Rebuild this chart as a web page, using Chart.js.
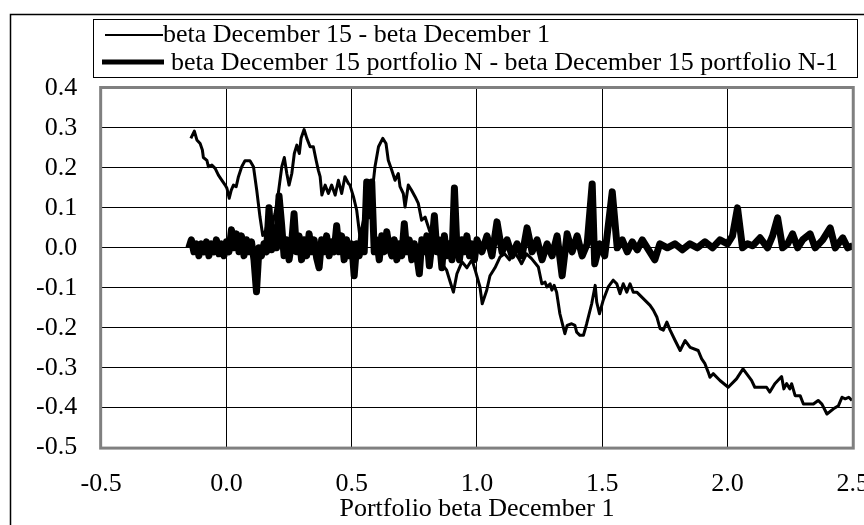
<!DOCTYPE html>
<html>
<head>
<meta charset="utf-8">
<script src="https://cdn.jsdelivr.net/npm/chart.js@4.4.0/dist/chart.umd.min.js"></script>
<style>
  html, body { margin: 0; padding: 0; background: #fff; overflow: hidden; }
  canvas { display: block; }
</style>
</head>
<body>
<canvas id="betaChart" width="890" height="525"></canvas>
<script>
// beta December 15 - beta December 1 (thin line)
var thinX = [-0.142, -0.128, -0.118, -0.105, -0.096, -0.092, -0.078, -0.072, -0.058, -0.045,
    -0.032, -0.018, -0.005, 0.002, 0.011, 0.019, 0.028, 0.039, 0.048, 0.061,
    0.074, 0.094, 0.108, 0.121, 0.134, 0.145, 0.157, 0.168, 0.181, 0.194,
    0.207, 0.221, 0.231, 0.241, 0.250, 0.261, 0.271, 0.281, 0.291, 0.298,
    0.310, 0.321, 0.334, 0.347, 0.358, 0.367, 0.374, 0.381, 0.394, 0.407,
    0.420, 0.434, 0.447, 0.460, 0.473, 0.487, 0.493, 0.507, 0.520, 0.533,
    0.547, 0.560, 0.573, 0.587, 0.593, 0.607, 0.624, 0.637, 0.646, 0.660,
    0.673, 0.686, 0.693, 0.706, 0.713, 0.726, 0.739, 0.753, 0.766, 0.779,
    0.793, 0.806, 0.819, 0.835, 0.850, 0.866, 0.879, 0.893, 0.906, 0.920,
    0.940, 0.960, 0.980, 0.995, 1.012, 1.021, 1.039, 1.052, 1.072, 1.092,
    1.110, 1.130, 1.145, 1.165, 1.178, 1.198, 1.218, 1.245, 1.259, 1.272,
    1.279, 1.292, 1.299, 1.308, 1.318, 1.331, 1.351, 1.360, 1.378, 1.391,
    1.398, 1.411, 1.425, 1.438, 1.458, 1.472, 1.478, 1.489, 1.504, 1.524,
    1.544, 1.558, 1.571, 1.584, 1.598, 1.611, 1.624, 1.638, 1.664, 1.691,
    1.704, 1.718, 1.731, 1.744, 1.758, 1.771, 1.791, 1.811, 1.831, 1.851,
    1.883, 1.897, 1.910, 1.923, 1.930, 1.943, 1.970, 2.003, 2.036, 2.062,
    2.082, 2.096, 2.109, 2.129, 2.156, 2.169, 2.189, 2.216, 2.225, 2.236,
    2.249, 2.256, 2.270, 2.290, 2.303, 2.343, 2.362, 2.377, 2.397, 2.423,
    2.443, 2.457, 2.470, 2.484, 2.497];
var thinY = [0.274, 0.292, 0.270, 0.261, 0.245, 0.226, 0.219, 0.203, 0.207, 0.199,
    0.182, 0.169, 0.157, 0.149, 0.124, 0.144, 0.157, 0.153, 0.178, 0.203,
    0.218, 0.218, 0.203, 0.144, 0.077, 0.031, 0.044, 0.077, 0.052, 0.086,
    0.136, 0.203, 0.226, 0.186, 0.157, 0.186, 0.236, 0.257, 0.236, 0.274,
    0.296, 0.274, 0.253, 0.253, 0.219, 0.194, 0.178, 0.132, 0.157, 0.136,
    0.157, 0.132, 0.169, 0.136, 0.178, 0.161, 0.157, 0.128, 0.094, 0.027,
    0.069, 0.111, 0.161, 0.169, 0.203, 0.253, 0.274, 0.261, 0.219, 0.194,
    0.169, 0.186, 0.153, 0.136, 0.102, 0.157, 0.144, 0.128, 0.111, 0.069,
    0.077, 0.052, 0.027, 0.005, -0.020, -0.045, -0.056, -0.085, -0.111, -0.065,
    -0.035, -0.050, -0.030, -0.060, -0.098, -0.140, -0.106, -0.070, -0.050, -0.023,
    -0.015, -0.030, -0.006, -0.025, -0.040, -0.015, -0.027, -0.048, -0.090, -0.086,
    -0.098, -0.090, -0.106, -0.094, -0.111, -0.165, -0.215, -0.194, -0.190, -0.194,
    -0.211, -0.219, -0.219, -0.190, -0.140, -0.094, -0.136, -0.165, -0.131, -0.098,
    -0.081, -0.090, -0.115, -0.090, -0.111, -0.090, -0.111, -0.111, -0.127, -0.144,
    -0.156, -0.173, -0.202, -0.206, -0.186, -0.206, -0.232, -0.257, -0.232, -0.249,
    -0.257, -0.278, -0.290, -0.311, -0.324, -0.315, -0.332, -0.349, -0.328, -0.303,
    -0.320, -0.332, -0.349, -0.349, -0.349, -0.361, -0.340, -0.322, -0.353, -0.340,
    -0.353, -0.340, -0.370, -0.370, -0.391, -0.391, -0.382, -0.391, -0.416, -0.403,
    -0.395, -0.374, -0.378, -0.374, -0.382];

// beta December 15 portfolio N - beta December 15 portfolio N-1 (thick line)
var thickX = [-0.15, -0.14, -0.13, -0.12, -0.11, -0.10, -0.09, -0.08, -0.07, -0.06,
    -0.05, -0.04, -0.03, -0.02, -0.01, 0.00, 0.01, 0.02, 0.03, 0.04,
    0.05, 0.06, 0.07, 0.08, 0.09, 0.10, 0.11, 0.12, 0.13, 0.14,
    0.15, 0.16, 0.17, 0.18, 0.19, 0.20, 0.21, 0.22, 0.23, 0.24,
    0.25, 0.26, 0.27, 0.28, 0.29, 0.30, 0.31, 0.32, 0.33, 0.34,
    0.35, 0.36, 0.37, 0.38, 0.39, 0.40, 0.41, 0.42, 0.43, 0.44,
    0.45, 0.46, 0.47, 0.48, 0.49, 0.50, 0.51, 0.52, 0.53, 0.54,
    0.55, 0.56, 0.57, 0.58, 0.59, 0.60, 0.61, 0.62, 0.63, 0.64,
    0.65, 0.66, 0.67, 0.68, 0.69, 0.70, 0.71, 0.72, 0.73, 0.74,
    0.75, 0.76, 0.77, 0.78, 0.79, 0.80, 0.81, 0.82, 0.83, 0.84,
    0.85, 0.86, 0.87, 0.88, 0.89, 0.90, 0.91, 0.92, 0.93, 0.94,
    0.95, 0.96, 0.97, 0.98, 0.99, 1.00, 1.02, 1.04, 1.06, 1.08,
    1.10, 1.12, 1.14, 1.16, 1.18, 1.20, 1.22, 1.24, 1.26, 1.28,
    1.30, 1.32, 1.34, 1.36, 1.38, 1.40, 1.42, 1.44, 1.46, 1.47,
    1.49, 1.51, 1.54, 1.56, 1.58, 1.60, 1.62, 1.64, 1.66, 1.68,
    1.71, 1.73, 1.76, 1.79, 1.82, 1.85, 1.88, 1.91, 1.94, 1.97,
    2.00, 2.02, 2.04, 2.06, 2.08, 2.10, 2.13, 2.16, 2.18, 2.20,
    2.22, 2.24, 2.26, 2.28, 2.30, 2.33, 2.35, 2.38, 2.41, 2.43,
    2.46, 2.48, 2.50];
var thickY = [0.000, 0.020, -0.010, 0.010, -0.020, 0.010, -0.010, 0.015, -0.020, 0.010,
    -0.010, 0.020, -0.015, 0.010, -0.020, 0.015, -0.010, 0.045, 0.000, 0.035,
    -0.010, 0.030, -0.020, 0.020, -0.010, 0.015, -0.030, -0.110, 0.000, -0.020,
    0.010, -0.010, 0.100, -0.005, 0.050, 0.000, 0.130, 0.060, -0.020, 0.020,
    -0.030, 0.010, 0.085, -0.010, 0.030, -0.030, 0.020, -0.020, 0.035, -0.010,
    0.020, -0.025, -0.050, 0.020, -0.010, 0.030, -0.020, 0.015, -0.010, 0.055,
    -0.010, 0.030, -0.030, 0.020, -0.020, 0.010, -0.070, 0.010, -0.020, 0.030,
    -0.010, 0.165, 0.080, 0.165, -0.010, 0.020, -0.030, 0.030, -0.010, 0.040,
    0.000, -0.020, 0.020, -0.030, 0.010, -0.020, 0.060, -0.010, 0.020, -0.030,
    0.010, -0.020, -0.065, 0.020, -0.010, 0.030, -0.045, 0.010, 0.080, -0.010,
    0.020, -0.050, 0.030, -0.020, 0.010, -0.030, 0.150, 0.000, -0.030, 0.020,
    -0.010, 0.030, -0.020, 0.010, -0.030, 0.020, -0.010, 0.030, -0.020, 0.065,
    -0.010, 0.020, -0.020, 0.010, -0.020, 0.050, -0.010, 0.020, -0.030, 0.010,
    -0.020, 0.030, -0.070, 0.035, -0.010, 0.030, -0.020, 0.010, 0.160, -0.040,
    0.010, -0.020, 0.140, 0.000, 0.020, -0.010, 0.015, -0.005, 0.020, 0.000,
    -0.030, 0.010, 0.000, 0.010, -0.005, 0.010, 0.000, 0.015, 0.000, 0.020,
    0.010, 0.030, 0.100, 0.000, 0.010, 0.005, 0.025, 0.000, 0.030, 0.075,
    0.000, 0.010, 0.035, 0.000, 0.020, 0.035, 0.000, 0.020, 0.050, 0.000,
    0.025, 0.000, 0.005];

var xTicks = [-0.5, 0.0, 0.5, 1.0, 1.5, 2.0, 2.5];
var yTicks = [-0.5, -0.4, -0.3, -0.2, -0.1, 0.0, 0.1, 0.2, 0.3, 0.4];
var seriesNames = ['beta December 15 - beta December 1',
    'beta December 15 portfolio N - beta December 15 portfolio N-1'];
var xTitle = 'Portfolio beta December 1';

var serif = "'Liberation Serif', 'Times New Roman', serif";

function toPoints(xs, ys) {
    return xs.map(function (x, i) { return {x: x, y: ys[i]}; });
}

function fmt(v) {
    if (Math.abs(v) < 1e-9) return '0.0';
    return v.toFixed(1);
}

// white page, outer frame, grey plot border, legend box
var framePlugin = {
    id: 'frame',
    beforeDraw: function (chart) {
        var ctx = chart.ctx;
        ctx.save();
        ctx.fillStyle = '#fff';
        ctx.fillRect(0, 0, chart.width, chart.height);
        ctx.strokeStyle = '#000';
        ctx.lineWidth = 1.5;
        ctx.strokeRect(10.5, 14.5, chart.width + 40, chart.height + 40);
        ctx.restore();
    },
    afterDatasetsDraw: function (chart) {
        var ctx = chart.ctx;
        var a = chart.chartArea;
        ctx.save();
        ctx.strokeStyle = '#808080';
        ctx.lineWidth = 3;
        ctx.strokeRect(a.left - 0.5, a.top - 0.5, a.right - a.left + 1, a.bottom - a.top + 1);
        ctx.restore();
    },
    afterDraw: function (chart) {
        var ctx = chart.ctx;
        ctx.save();
        ctx.strokeStyle = '#000';
        ctx.lineWidth = 1;
        ctx.strokeRect(93.5, 19.5, 764, 58);

        var rows = [
            {y: 35, x1: 105, x2: 163, tx: 163, ty: 42, w: 2, max: 400},
            {y: 62, x1: 102, x2: 164, tx: 171, ty: 70, w: 5, max: 677}
        ];
        ctx.font = '26px ' + serif;
        ctx.fillStyle = '#000';
        ctx.textBaseline = 'alphabetic';
        chart.data.datasets.forEach(function (ds, i) {
            var r = rows[i];
            ctx.strokeStyle = ds.borderColor;
            ctx.lineWidth = r.w;
            ctx.beginPath();
            ctx.moveTo(r.x1, r.y);
            ctx.lineTo(r.x2, r.y);
            ctx.stroke();
            ctx.fillText(ds.label, r.tx, r.ty, r.max);
        });
        ctx.restore();
    }
};

var canvas = document.getElementById('betaChart');
var betaChart = new Chart(canvas, {
    type: 'scatter',
    data: {
        datasets: [{
            label: seriesNames[0],
            data: toPoints(thinX, thinY),
            showLine: true,
            borderColor: '#000',
            borderWidth: 3,
            borderJoinStyle: 'round',
            pointRadius: 0,
            tension: 0
        }, {
            label: seriesNames[1],
            data: toPoints(thickX, thickY),
            showLine: true,
            borderColor: '#000',
            borderWidth: 7,
            borderJoinStyle: 'round',
            pointRadius: 0,
            tension: 0
        }]
    },
    options: {
        responsive: false,
        animation: false,
        devicePixelRatio: 1,
        layout: {
            padding: {left: 12, top: 88, right: 27, bottom: 0}
        },
        plugins: {
            legend: {display: false},
            tooltip: {enabled: false}
        },
        scales: {
            x: {
                type: 'linear',
                min: -0.5,
                max: 2.5,
                afterBuildTicks: function (scale) {
                    scale.ticks = xTicks.map(function (v) { return {value: v}; });
                },
                ticks: {
                    color: '#000',
                    padding: 21,
                    font: {family: serif, size: 26},
                    callback: function (v) { return fmt(v); }
                },
                grid: {color: '#000', lineWidth: 1, drawTicks: false},
                border: {display: false},
                title: {
                    display: true,
                    text: xTitle,
                    color: '#000',
                    font: {family: serif, size: 26},
                    padding: {top: -27, bottom: 0}
                }
            },
            y: {
                type: 'linear',
                min: -0.5,
                max: 0.4,
                afterBuildTicks: function (scale) {
                    scale.ticks = yTicks.map(function (v) { return {value: v}; });
                },
                ticks: {
                    color: '#000',
                    padding: 24,
                    font: {family: serif, size: 26},
                    callback: function (v) { return fmt(v); }
                },
                grid: {color: '#000', lineWidth: 1, drawTicks: false},
                border: {display: false}
            }
        }
    },
    plugins: [framePlugin]
});
</script>
</body>
</html>
